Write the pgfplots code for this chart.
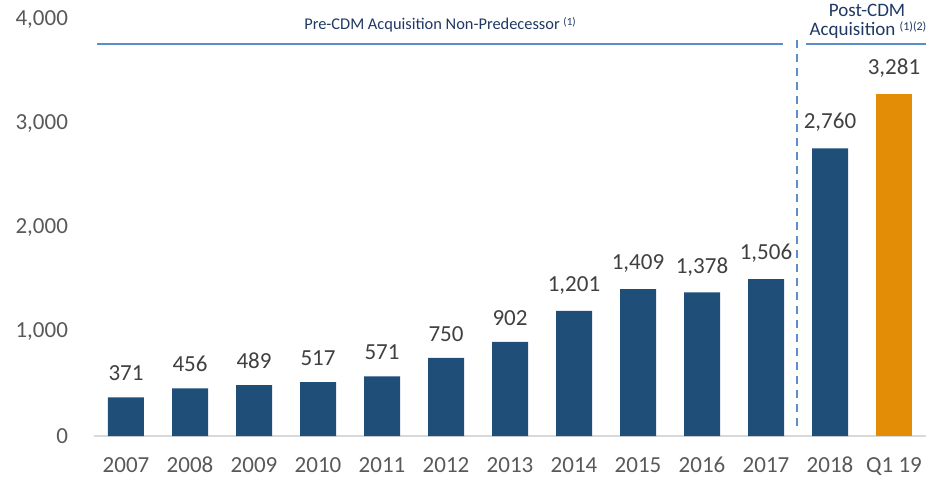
\documentclass[border=0pt]{standalone}
\usepackage{fontspec}
\setmainfont{Carlito}
\usepackage{pgfplots}
\pgfplotsset{compat=1.18}
\definecolor{barblue}{HTML}{1F4E79}
\definecolor{barorange}{HTML}{E38C05}
\definecolor{annot}{HTML}{1F3864}
\definecolor{linebl}{HTML}{5B8FCB}
\definecolor{ticktxt}{HTML}{595959}
\definecolor{valtxt}{HTML}{404040}
\definecolor{basegray}{HTML}{D9D9D9}
\begin{document}
\begin{tikzpicture}[x=1pt,y=1pt]
\begin{axis}[
  at={(0,0)}, anchor=south west,
  width=416pt, height=208.5pt, scale only axis,
  xmin=-0.5, xmax=12.5, ymin=0, ymax=4000,
  axis line style={draw=none},
  major tick length=0pt,
  ytick={0,1000,2000,3000,4000},
  xtick={0,...,12},
  xticklabels={2007,2008,2009,2010,2011,2012,2013,2014,2015,2016,2017,2018,Q1 19},
  ticklabel style={font=\fontsize{11.5}{14}\selectfont, text=ticktxt},
  yticklabel style={/pgf/number format/1000 sep={,}, /pgf/number format/assume math mode=true, xshift=-9.5pt},
  xticklabel style={yshift=-8pt, text height=1.4ex, text depth=0.2ex},
  scaled y ticks=false,
  clip=false,
  ybar,
  bar width=18pt,
  nodes near coords,
  nodes near coords style={font=\fontsize{11.5}{14}\selectfont, text=valtxt, inner sep=0pt, yshift=8pt, anchor=south,
    /pgf/number format/1000 sep={,}, /pgf/number format/assume math mode=true},
]
\draw[basegray, line width=0.6pt] (axis cs:-0.5,0) -- (axis cs:12.5,0);
\addplot[fill=barblue, draw=none, bar shift=0pt] coordinates {
 (0,371) (1,456) (2,489) (3,517) (4,571) (5,750) (6,902) (7,1201) (8,1409) (9,1378) (10,1506) (11,2760)};
\addplot[fill=barorange, draw=none, bar shift=0pt] coordinates {(12,3281)};
\end{axis}
% annotations (pt coordinates, origin at plot lower-left)
\draw[linebl, line width=0.8pt] (1.5,196) -- (344.5,196);
\draw[linebl, line width=0.8pt] (356,196) -- (416,196);
\draw[linebl, line width=1pt, dash pattern=on 4pt off 3pt] (351.5,198) -- (351.5,3);
\node[text=annot, font=\fontsize{8.2}{10}\selectfont, inner sep=0pt] at (173,205.5) {Pre-CDM Acquisition Non-Predecessor \raisebox{0.45ex}{\fontsize{5.5}{6}\selectfont (1)}};
\node[text=annot, font=\fontsize{9.5}{11}\selectfont, inner sep=0pt] at (386.5,213) {Post-CDM};
\node[text=annot, font=\fontsize{9.5}{11}\selectfont, inner sep=0pt] at (387,203) {Acquisition \raisebox{0.45ex}{\fontsize{6}{7}\selectfont (1)(2)}};
\pgfresetboundingbox
\path[use as bounding box] (-47,-21) rectangle (416,218);
\end{tikzpicture}
\end{document}
